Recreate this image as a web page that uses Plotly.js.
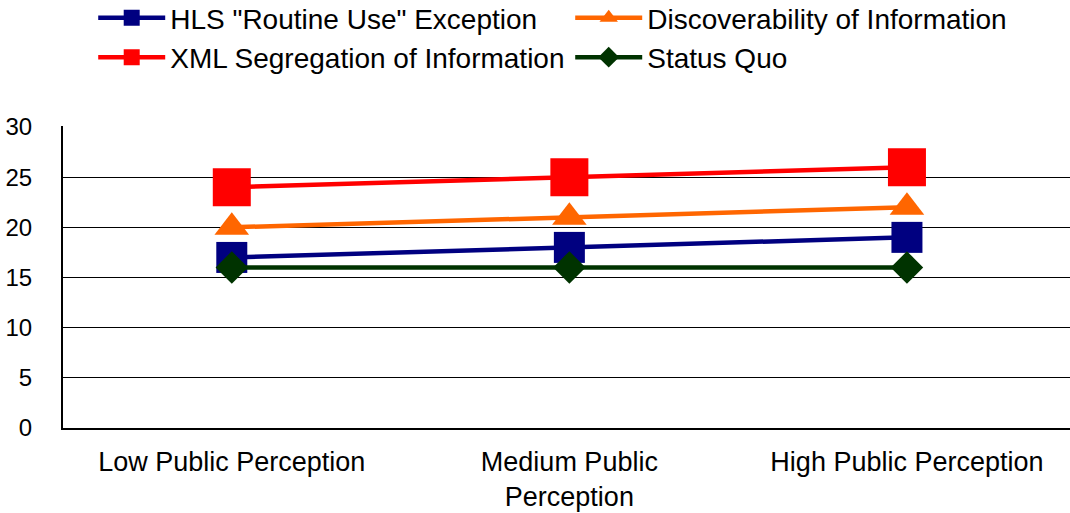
<!DOCTYPE html>
<html>
<head>
<meta charset="utf-8">
<script src="https://cdn.plot.ly/plotly-3.0.1.min.js"></script>
<style>
  html, body { margin: 0; padding: 0; background: #ffffff; }
  #chart { width: 1070px; height: 513px; }
</style>
</head>
<body>
<div id="chart"></div>
<script>
// Perception levels along the category axis
const categories = ["Low Public Perception", "Medium Public<br>Perception", "High Public Perception"];

// Scores for each option at each perception level
const hlsRoutineUse = [17, 18, 19];
const discoverability = [20, 21, 22];
const xmlSegregation = [24, 25, 26];
const statusQuo = [16, 16, 16];

const seriesNames = [
  'HLS "Routine Use" Exception',
  "Discoverability of Information",
  "XML Segregation of Information",
  "Status Quo"
];

const yTicks = [0, 5, 10, 15, 20, 25, 30];

const font = "Arial, 'Liberation Sans', sans-serif";

function series(name, values, color, symbol, size) {
  return {
    type: "scatter",
    mode: "lines+markers",
    name: name,
    x: categories,
    y: values,
    line: { color: color, width: 4.5 },
    marker: { color: color, symbol: symbol, size: size, line: { width: 0 } },
    cliponaxis: false
  };
}

const data = [
  series(seriesNames[0], hlsRoutineUse, "#000080", "square", 31),
  series(seriesNames[1], discoverability, "#FF6600", "triangle-up", 30),
  series(seriesNames[2], xmlSegregation, "#FF0000", "square", 38),
  series(seriesNames[3], statusQuo, "#003300", "diamond", 25)
];

const layout = {
  width: 1070,
  height: 513,
  margin: { l: 63, r: 0, t: 126, b: 85, pad: 0, autoexpand: false },
  paper_bgcolor: "#ffffff",
  plot_bgcolor: "#ffffff",
  font: { family: font, color: "#000000" },
  showlegend: true,
  legend: {
    orientation: "h",
    x: 0.03, xanchor: "left",
    y: 1.44, yanchor: "top",
    xref: "paper",
    entrywidth: 395,
    entrywidthmode: "pixels",
    itemwidth: 67,
    font: { family: font, size: 28, color: "#000000" },
    bgcolor: "rgba(0,0,0,0)",
    tracegroupgap: 0
  },
  xaxis: {
    type: "category",
    range: [-0.5, 2.483],
    showgrid: false,
    zeroline: false,
    showline: true,
    linecolor: "#000000",
    linewidth: 1.5,
    ticks: "",
    ticklabelstandoff: 9,
    tickfont: { family: font, size: 27, color: "#000000" },
    fixedrange: true
  },
  yaxis: {
    range: [0, 30.1],
    tickvals: yTicks,
    ticktext: yTicks.map(String),
    showgrid: true,
    gridcolor: "#000000",
    gridwidth: 1.3,
    zeroline: false,
    showline: true,
    linecolor: "#000000",
    linewidth: 2,
    ticks: "outside",
    ticklen: 24,
    tickcolor: "rgba(0,0,0,0)",
    tickfont: { family: font, size: 24, color: "#000000" },
    fixedrange: true
  }
};

Plotly.newPlot("chart", data, layout, { displayModeBar: false, staticPlot: true });
</script>
</body>
</html>
